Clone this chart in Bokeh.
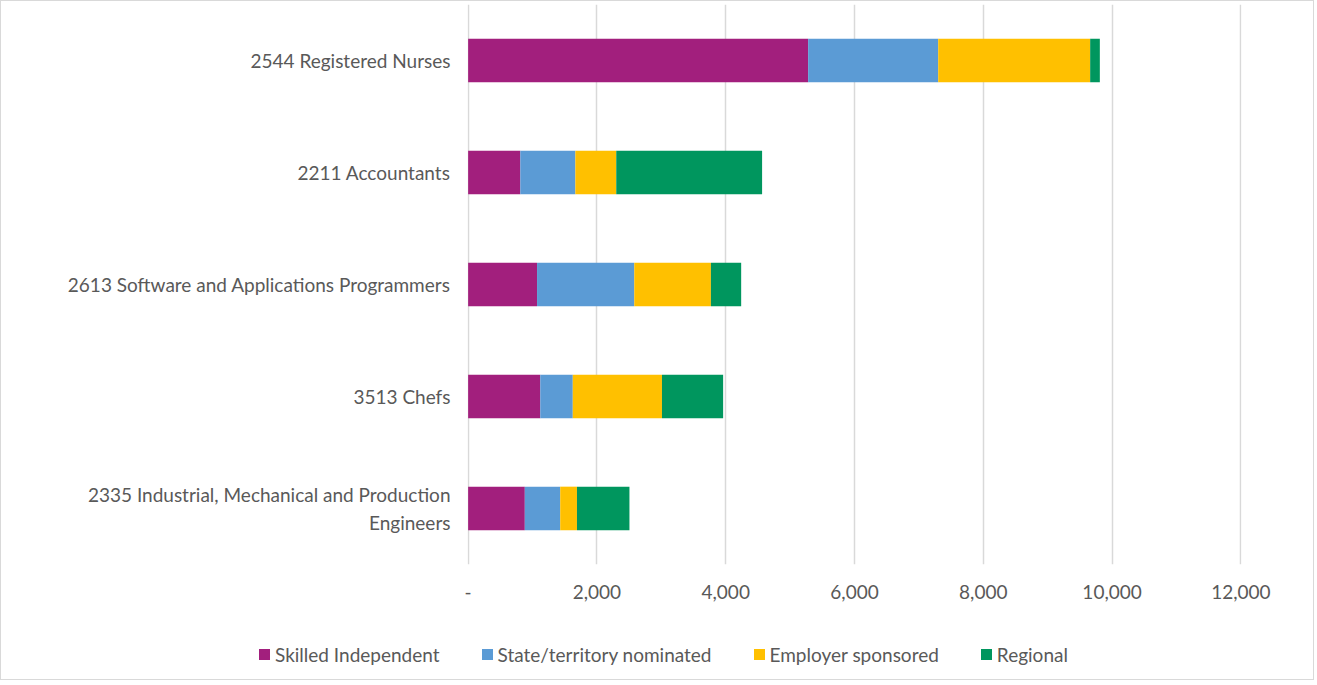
from bokeh.plotting import figure
from bokeh.layouts import column
from bokeh.models import ColumnDataSource, NumeralTickFormatter, FixedTicker, Range1d, Div
from bokeh.embed import file_html
from bokeh.resources import INLINE

occupations = [
    "2544 Registered Nurses",
    "2211 Accountants",
    "2613 Software and Applications Programmers",
    "3513 Chefs",
    "2335 Industrial, Mechanical and Production\nEngineers",
]
series = ["Skilled Independent", "State/territory nominated", "Employer sponsored", "Regional"]
skilled_independent = [5280, 810, 1070, 1120, 880]
state_nominated = [2020, 855, 1510, 505, 550]
employer_sponsored = [2360, 635, 1190, 1385, 260]
regional = [150, 2265, 470, 950, 815]
colors = ["#A21F7D", "#5B9BD5", "#FFC000", "#00965E"]
x_ticks = [0, 2000, 4000, 6000, 8000, 10000, 12000]

FONT = "Lato"
GREY = "#595959"
FS = "19px"

data = {"occ": occupations,
        "Skilled Independent": skilled_independent,
        "State/territory nominated": state_nominated,
        "Employer sponsored": employer_sponsored,
        "Regional": regional}
src = ColumnDataSource(data)

# main chart
p = figure(frame_width=774, frame_height=560, y_range=list(reversed(occupations)),
           x_range=Range1d(-10, 12010),
           output_backend="svg", toolbar_location=None,
           min_border_left=466, min_border_right=72, min_border_top=3, min_border_bottom=45)

renderers = p.hbar_stack(series, y="occ", height=0.39, color=colors, source=src, line_color=None)

p.xaxis.ticker = FixedTicker(ticks=x_ticks)
p.xaxis.formatter = NumeralTickFormatter(format="0,0")
p.xaxis.major_label_overrides = {0: "-"}
for ax in (p.xaxis, p.yaxis):
    ax.axis_line_color = None
    ax.major_tick_line_color = None
    ax.minor_tick_line_color = None
    ax.major_label_text_color = GREY
    ax.major_label_text_font = FONT
    ax.major_label_text_font_size = FS
p.xaxis.major_label_standoff = 14
p.yaxis.major_label_standoff = 11

p.xgrid.grid_line_color = "#D9D9D9"
p.xgrid.grid_line_width = 1.5
p.ygrid.grid_line_color = None
p.outline_line_color = None

# legend strip built from the series names and colours
items = "".join(
    f'<span style="display:inline-flex;align-items:center;margin-right:42px;">'
    f'<span style="display:inline-block;width:11px;height:11px;background:{c};margin-right:5px;"></span>'
    f'{s}</span>'
    for s, c in zip(series, colors))
legend_html = (f'<div style="display:flex;align-items:center;padding-left:258px;padding-top:34px;'
               f'font-family:{FONT};font-size:{FS};color:{GREY};line-height:23px;white-space:nowrap;margin:0;">'
               f'{items}</div>')
legend_div = Div(text=legend_html, width=1312, height=70, styles={"margin": "0"})

layout = column(p, legend_div, spacing=0, styles={"border": "1.5px solid #D9D9D9"})

open("out.html", "w").write(file_html(layout, INLINE))
